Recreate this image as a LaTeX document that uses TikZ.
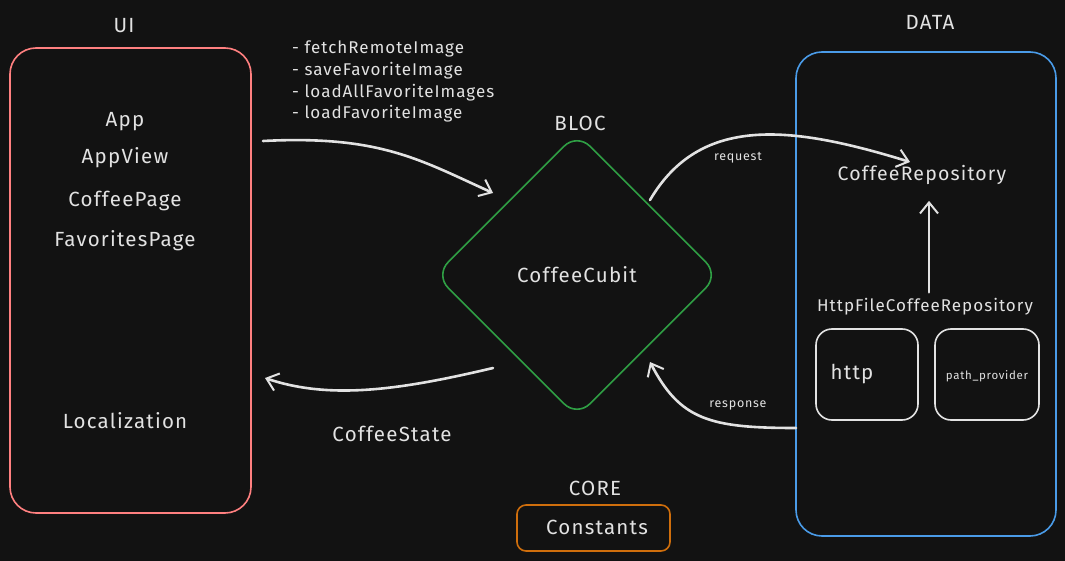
\documentclass[tikz,border=0pt]{standalone}
\usepackage{fontspec}
\setmainfont{Fira Sans}[LetterSpace=6]
\usetikzlibrary{shapes.geometric,arrows.meta,positioning}

% Define colours
\definecolor{bg}{HTML}{121212}
\definecolor{ink}{HTML}{E2E2E2}
\definecolor{uired}{HTML}{FF8080}
\definecolor{blocgreen}{HTML}{2F9E44}
\definecolor{datablue}{HTML}{4A9BE8}
\definecolor{coreorange}{HTML}{CF6E0C}

\tikzset{
    txt/.style={text=ink, font=\fontsize{20.5}{24}\selectfont, inner sep=0pt},
    listtxt/.style={text=ink, font=\fontsize{17}{20}\selectfont, inner sep=0pt, anchor=west},
    smalltxt/.style={text=ink, font=\fontsize{12.5}{15}\selectfont, inner sep=0pt},
    layer/.style={draw=#1, line width=1.6pt, rounded corners=26pt, inner sep=0pt},
    libbox/.style={draw=ink, line width=1.6pt, rounded corners=16pt, minimum height=91pt, inner sep=0pt},
    flow/.style={draw=ink, line width=2.6pt, line cap=round,
        -{Straight Barb[length=11pt,width=18pt,line width=2pt]}},
}

\begin{document}
\begin{tikzpicture}[x=1pt, y=-1pt]

    % Background and bounding box
    \fill[bg] (0,0) rectangle (1065,561);
    \useasboundingbox (0,0) rectangle (1065,561);

    % UI layer
    \node[layer=uired, minimum width=241pt, minimum height=465pt] (ui) at (130.5,280.5) {};
    \node[txt] (uilabel) at (124,26) {UI};
    \foreach \y/\name in {122/App, 158/AppView, 201/CoffeePage, 241/FavoritesPage, 421/Localization} {
        \node[txt] (\name) at (125,\y) {\name};
    }

    % Cubit methods
    \foreach \i/\m in {0/fetchRemoteImage, 1/saveFavoriteImage, 2/loadAllFavoriteImages, 3/loadFavoriteImage} {
        \node[listtxt] (m\i) at (292,{49+21.6*\i}) {- \m};
    }

    % BLOC layer
    \node[txt] (bloclabel) at (580,123) {BLOC};
    \node[txt, diamond, draw=blocgreen, line width=1.6pt, rounded corners=18pt,
        minimum width=284pt, minimum height=284pt] (cubit) at (577,275) {CoffeeCubit};

    % DATA layer
    \node[layer=datablue, minimum width=260pt, minimum height=484pt] (data) at (926,294) {};
    \node[txt] (datalabel) at (930,22) {DATA};
    \node[txt, font=\fontsize{19.5}{23}\selectfont] (repo) at (922,175) {CoffeeRepository};
    \node[txt, font=\fontsize{17}{20}\selectfont] (httpfile) at (925,307) {HttpFileCoffeeRepository};
    \node[libbox, minimum width=102pt] (httpbox) at (867,374.5) {};
    \node[txt] (http) at (852,374) {http};
    \node[libbox, minimum width=104pt] (pathbox) at (987,374.5) {};
    \node[smalltxt, font=\fontsize{11.5}{14}\selectfont] (path) at (987,376) {path\_provider};

    % CORE layer
    \node[txt] (corelabel) at (595,488) {CORE};
    \node[draw=coreorange, line width=1.6pt, rounded corners=9pt, minimum width=153pt,
        minimum height=46pt, inner sep=0pt] (corebox) at (593.5,528) {};
    \node[txt] (constants) at (597,527) {Constants};

    % Free ends of the connectors
    \coordinate (callsrc) at (263,141);
    \coordinate (callend) at (493,193);
    \coordinate (statesrc) at (493,368);
    \coordinate (stateend) at (265,378);
    \coordinate (reqsrc) at (650,200);
    \coordinate (reqend) at (910,162);
    \coordinate (respsrc) at (796,428);
    \coordinate (respend) at (650,362);

    % Connectors
    \draw[flow] (callsrc) .. controls (380,135) and (420,160) .. (callend);
    \draw[flow] (statesrc) .. controls (400,390) and (330,400) .. (stateend);
    \draw[flow] (reqsrc) .. controls (700,115) and (790,125) .. (reqend);
    \draw[flow] (respsrc) .. controls (710,428) and (680,420) .. (respend);
    \draw[flow] ([xshift=4pt,yshift=6pt]httpfile.north) -- ([xshift=7pt,yshift=-16pt]repo.south);

    % Connector labels
    \node[txt] (statelabel) at (392,434) {CoffeeState};
    \node[smalltxt] (reqlabel) at (738,158) {request};
    \node[smalltxt] (resplabel) at (738,405) {response};

\end{tikzpicture}
\end{document}
